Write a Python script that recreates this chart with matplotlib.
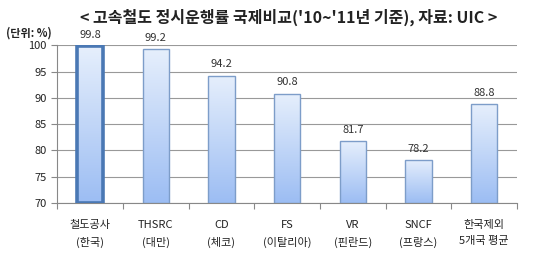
import matplotlib.pyplot as plt
import numpy as np
from matplotlib.colors import LinearSegmentedColormap
from matplotlib.patches import Rectangle

plt.rcParams['font.family'] = ['Noto Sans CJK KR', 'DejaVu Sans']

categories = ["철도공사\n(한국)", "THSRC\n(대만)", "CD\n(체코)", "FS\n(이탈리아)",
              "VR\n(핀란드)", "SNCF\n(프랑스)", "한국제외\n5개국 평균"]
values = [99.8, 99.2, 94.2, 90.8, 81.7, 78.2, 88.8]
yticks = [70, 75, 80, 85, 90, 95, 100]

fig = plt.figure(figsize=(5.5, 2.63), dpi=100)
ax = fig.add_axes([0.104, 0.228, 0.836, 0.6])

ymin, ymax = 70, 100
cmap = LinearSegmentedColormap.from_list("bar", ["#9cbdf3", "#e6effc"])
grad = np.linspace(0, 1, 256).reshape(-1, 1)
width = 0.4
x = np.arange(len(values))

for i, v in enumerate(values):
    left = x[i] - width / 2
    im = ax.imshow(grad, cmap=cmap, origin="lower", aspect="auto",
                   extent=(left, left + width, ymin, v), zorder=2)
    if i == 0:
        rect = Rectangle((left, ymin), width, v - ymin, fill=False,
                         edgecolor="#4a78b4", lw=2.6, zorder=3)
    else:
        rect = Rectangle((left, ymin), width, v - ymin, fill=False,
                         edgecolor="#7d9dc9", lw=1.0, zorder=3)
    ax.add_patch(rect)
    im.set_clip_path(rect)
    ax.text(x[i], v + 1.2, f"{v:.1f}", ha="center", va="bottom",
            fontsize=8, color="#333333")

ax.set_xlim(-0.5, len(values) - 0.5)
ax.set_ylim(ymin, ymax)
ax.set_yticks(yticks)
ax.tick_params(axis="y", labelsize=8, length=4, color="#888888", labelcolor="#222222")
ax.set_xticks(np.arange(len(values) + 1) - 0.5, minor=False)
ax.set_xticklabels([])
ax.set_xticks(x, minor=True)
ax.set_xticklabels(categories, minor=True, fontsize=8, color="#222222", linespacing=1.75)
ax.tick_params(axis="x", which="major", length=4, direction="out", color="#888888")
ax.tick_params(axis="x", which="minor", length=0, pad=12)
for y in yticks:
    ax.axhline(y, color="#999999", lw=0.8, zorder=1)
for s in ["top", "right"]:
    ax.spines[s].set_visible(False)
ax.spines["left"].set_color("#888888")
ax.spines["bottom"].set_color("#888888")

fig.text(0.525, 0.935, "< 고속철도 정시운행률 국제비교('10~'11년 기준), 자료: UIC >",
         ha="center", va="center", fontsize=11.5, fontweight="bold", color="#222222")
fig.text(0.01, 0.875, "(단위: %)", ha="left", va="center", fontsize=8,
         fontweight="bold", color="#222222")

fig.savefig("out.png", dpi=100)
